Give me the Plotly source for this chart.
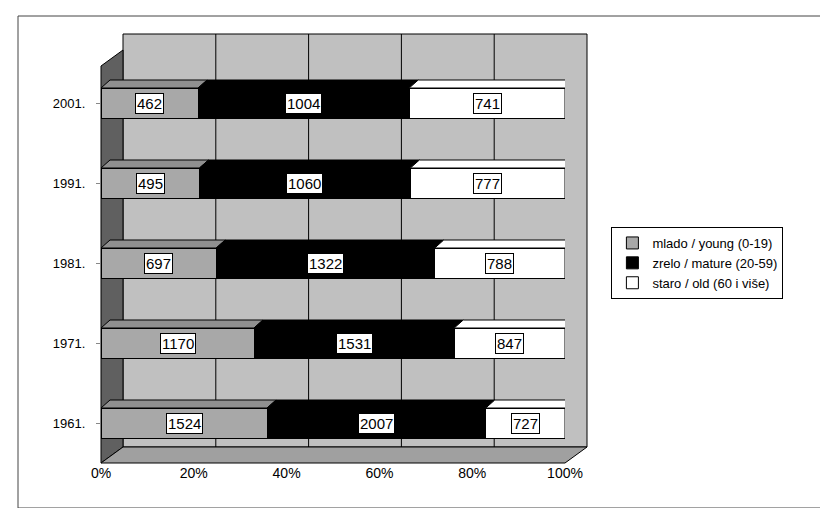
import plotly.graph_objects as go

years = ["1961.", "1971.", "1981.", "1991.", "2001."]
young = [1524, 1170, 697, 495, 462]
mature = [2007, 1531, 1322, 1060, 1004]
old = [727, 847, 788, 777, 741]
names = ["mlado / young (0-19)", "zrelo / mature (20-59)", "staro / old (60 i više)"]
colors = ["#a8a8a8", "#000000", "#ffffff"]

W, H = 828, 508
L, R, T, B = 93, 271, 55, 53
pw, ph = W - L - R, H - T - B
dx, dy = 22, 16  # wall depth in px
bdx, bdy = 9, 8  # bar depth in px
bw = 0.375

def px(x): return (x - L) / pw
def py(y): return (H - B - y) / ph

totals = [a + b + c for a, b, c in zip(young, mature, old)]
series = [young, mature, old]
pct = [[v / t * 100 for v, t in zip(s, totals)] for s in series]
ys = list(range(len(years)))

fig = go.Figure()
for s, p, n, c in zip(series, pct, names, colors):
    fig.add_trace(go.Bar(y=ys, x=p, name=n, orientation="h", width=bw,
                         marker=dict(color=c, line=dict(color="black", width=1)),
                         hoverinfo="skip"))

shapes = []
# back wall, left wall, floor
shapes.append(dict(type="rect", xref="paper", yref="paper", x0=px(L + dx), x1=px(L + pw + dx),
                   y0=py(T + ph - dy), y1=py(T - dy - 13), fillcolor="#c0c0c0",
                   line=dict(color="black", width=1), layer="below"))
shapes.append(dict(type="path", xref="paper", yref="paper",
                   path=f"M{px(L)},{py(T - 13 + dy)} L{px(L + dx)},{py(T - 13)} L{px(L + dx)},{py(T + ph - dy)} L{px(L)},{py(T + ph)} Z",
                   fillcolor="#606060", line=dict(color="black", width=1), layer="below"))
shapes.append(dict(type="path", xref="paper", yref="paper",
                   path=f"M{px(L)},{py(T + ph)} L{px(L + dx)},{py(T + ph - dy)} L{px(L + pw + dx)},{py(T + ph - dy)} L{px(L + pw)},{py(T + ph)} Z",
                   fillcolor="#a0a0a0", line=dict(color="black", width=1), layer="below"))
for k in range(1, 5):
    xx = px(L + dx + pw * k / 5)
    shapes.append(dict(type="line", xref="paper", yref="paper", x0=xx, x1=xx,
                       y0=py(T + ph - dy), y1=py(T - dy - 13), line=dict(color="black", width=1), layer="below"))
# bar 3D faces
ddx = bdx * 100 / pw
ddy = bdy * (len(years)) / ph
for i, y in enumerate(ys):
    top = y + bw / 2
    start = 0
    for p, c in zip([pct[0][i], pct[1][i], pct[2][i]], ["#909090", "#000000", "#ffffff"]):
        shapes.append(dict(type="path", xref="x", yref="y",
                           path=f"M{start},{top} L{start + ddx},{top + ddy} L{start + p + ddx},{top + ddy} L{start + p},{top} Z",
                           fillcolor=c, line=dict(color="black", width=1)))
        start += p
    shapes.append(dict(type="path", xref="x", yref="y",
                       path=f"M100,{top} L{100 + ddx},{top + ddy} L{100 + ddx},{top + ddy - bw} L100,{top - bw} Z",
                       fillcolor="#d0d0d0", line=dict(color="black", width=1)))
# frame
shapes.append(dict(type="rect", xref="paper", yref="paper", x0=px(10), x1=px(820), y0=py(500), y1=py(8),
                   line=dict(color="#444", width=1), layer="below"))

annotations = []
for i, y in enumerate(ys):
    start = 0
    for s, p in zip(series, pct):
        annotations.append(dict(x=start + p[i] / 2, y=y, text=str(s[i]), showarrow=False,
                                bgcolor="white", bordercolor="black", borderwidth=1, borderpad=1,
                                font=dict(size=15, color="black")))
        start += p[i]

fig.update_layout(
    width=W, height=H, barmode="stack", showlegend=True,
    margin=dict(l=L, r=R, t=T, b=B),
    paper_bgcolor="white", plot_bgcolor="rgba(0,0,0,0)",
    font=dict(family="Liberation Sans, Arial", size=13, color="black"),
    xaxis=dict(range=[0, 100], tickvals=[0, 20, 40, 60, 80, 100], automargin=False,
               ticktext=["0%", "20%", "40%", "60%", "80%", "100%"], showgrid=False,
               zeroline=False, ticks="", tickfont=dict(size=14)),
    yaxis=dict(range=[-0.5, 4.5], tickvals=ys, ticktext=years, showgrid=False, automargin=False,
               zeroline=False, ticks="outside", ticklen=4, tickcolor="#888", ticklabelstandoff=8),
    legend=dict(x=1.1, y=0.5, yanchor="middle", bordercolor="black", borderwidth=1,
                traceorder="normal", font=dict(size=13), tracegroupgap=6),
    shapes=shapes, annotations=annotations,
)
fig.write_html("out.html")
